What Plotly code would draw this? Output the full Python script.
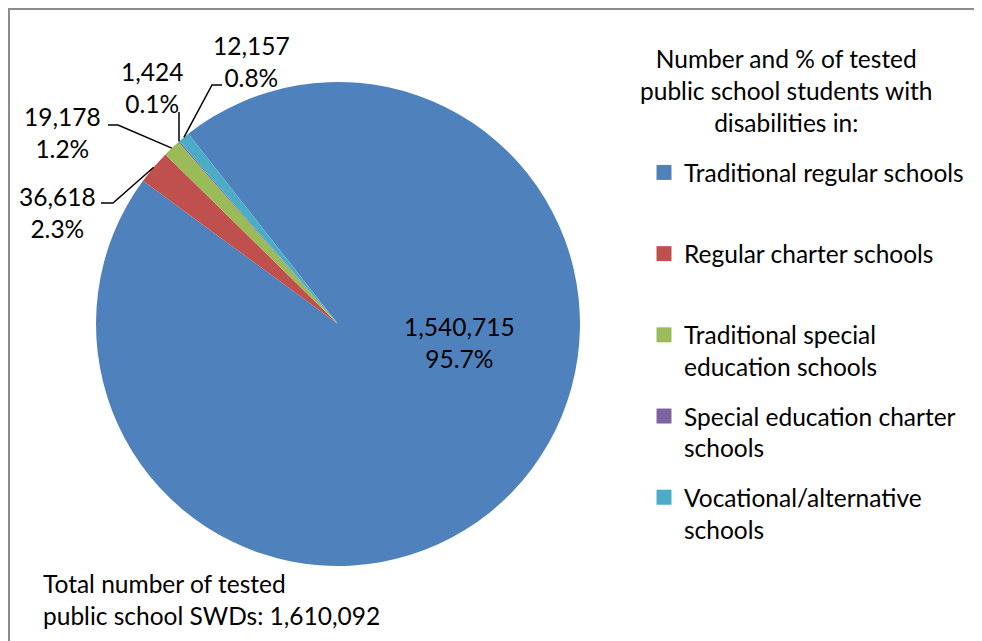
import math
import plotly.graph_objects as go

# ---------------- data ----------------
categories = ["Traditional regular schools", "Regular charter schools",
              "Traditional special education schools",
              "Special education charter schools", "Vocational/alternative schools"]
legend_labels = ["Traditional regular schools", "Regular charter schools",
                 "Traditional special<br>education schools",
                 "Special education charter<br>schools",
                 "Vocational/alternative<br>schools"]
students = [1540715, 36618, 19178, 1424, 12157]
colors = ["#4F81BD", "#C0504D", "#9BBB59", "#8064A2", "#4BACC6"]
legend_title = "Number and % of tested<br>public school students with<br>disabilities in:"

# ---------------- layout geometry (window pixels) ----------------
W, H = 982, 641          # browser window
OFF = 8                  # page body margin
FW, FH = W - OFF, H - OFF
CX, CY, R = 338, 324, 242
ROTATION = 321.8
FONT = "Lato"
FS = 24.5

# label block centres and leader-line elbows (window pixels)
label_pos = [(459, 342), (57, 212), (62, 132), (152, 87), (251, 61)]
leader_elbows = [None, [(113, 203), (101, 203)], [(118, 125), (108, 125)],
                 "vertical:112", [(212, 85), (222, 85)]]

total = sum(students)

fig = go.Figure()

fig.add_trace(go.Pie(
    labels=categories, values=students, sort=False, direction="clockwise",
    rotation=ROTATION, marker=dict(colors=colors, line=dict(width=0)),
    textinfo="none", hoverinfo="label+value+percent", showlegend=False,
    domain=dict(x=[(CX - R - OFF) / FW, (CX + R - OFF) / FW],
                y=[1 - (CY + R - OFF) / FH, 1 - (CY - R - OFF) / FH]),
))

# legend entries (one group per category so spacing can be set)
for lab, col in zip(legend_labels, colors):
    name = lab if "<br>" in lab else lab + "<br> "
    fig.add_trace(go.Scatter(
        x=[None], y=[None], mode="markers", name=name, legendgroup=lab,
        marker=dict(symbol="square", size=15, color=col), hoverinfo="skip",
    ))

shapes = []
annotations = []
cum = 0.0
for i, v in enumerate(students):
    mid = ROTATION + (cum + v / 2) / total * 360
    cum += v
    th = math.radians(mid)
    sx, sy = CX + R * math.sin(th), CY - R * math.cos(th)
    text = f"{v:,}<br>{v / total * 100:.1f}%"
    lx, ly = label_pos[i]
    annotations.append(dict(x=lx, y=ly, xref="x", yref="y", text=text,
                            showarrow=False, xanchor="center", yanchor="middle",
                            align="center", font=dict(family=FONT, size=FS, color="#000")))
    el = leader_elbows[i]
    if el is None:
        continue
    if isinstance(el, str):
        ey = float(el.split(":")[1])
        pts = [(sx, sy), (sx, ey)]
    else:
        pts = [(sx, sy)] + el
    path = "M " + " L ".join(f"{px:.1f},{py:.1f}" for px, py in pts)
    shapes.append(dict(type="path", path=path, xref="x", yref="y",
                       line=dict(color="#000", width=1.5), layer="above"))

# chart border (top and left visible)
shapes.append(dict(type="rect", xref="x", yref="y", x0=OFF + 1, y0=OFF + 1,
                   x1=W + 10, y1=H + 10,
                   line=dict(color="#8c8c8c", width=2), layer="below"))

annotations.append(dict(x=786, y=90, xref="x", yref="y", text=legend_title,
                        showarrow=False, xanchor="center", yanchor="middle", align="center",
                        font=dict(family=FONT, size=FS, color="#000")))
annotations.append(dict(x=41, y=599, xref="x", yref="y",
                        text=f"Total number of tested<br>public school SWDs: {total:,}",
                        showarrow=False, xanchor="left", yanchor="middle", align="left",
                        font=dict(family=FONT, size=FS, color="#000")))

fig.update_layout(
    width=FW, height=FH, margin=dict(l=0, r=0, t=0, b=0),
    paper_bgcolor="white", plot_bgcolor="white",
    xaxis=dict(range=[OFF, W], visible=False, fixedrange=True, domain=[0, 1]),
    yaxis=dict(range=[H, OFF], visible=False, fixedrange=True, domain=[0, 1]),
    shapes=shapes, annotations=annotations,
    showlegend=True,
    legend=dict(x=(644 - OFF) / FW, xanchor="left", y=1 - (150 - OFF) / FH, yanchor="top",
                font=dict(family=FONT, size=FS, color="#000"), valign="top",
                tracegroupgap=14.5, bgcolor="rgba(0,0,0,0)"),
    font=dict(family=FONT),
)

fig.write_html("out.html")
